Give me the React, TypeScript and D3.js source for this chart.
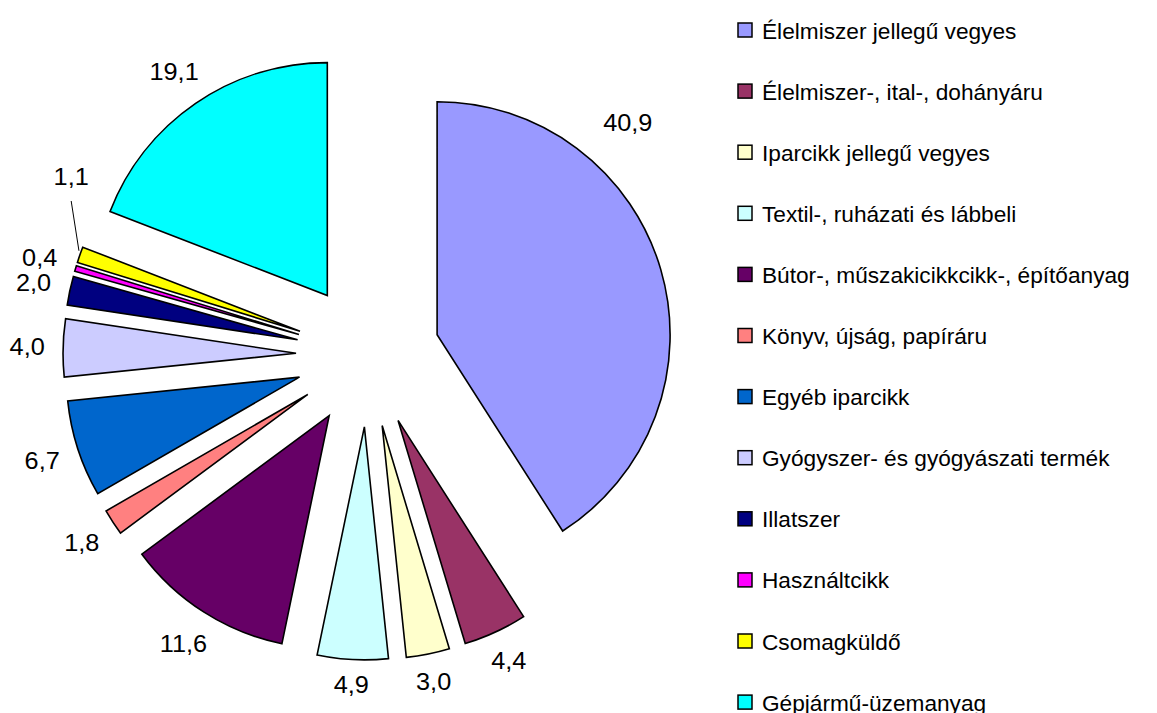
import React from "react";
import * as d3 from "d3";

const categories = [
  "Élelmiszer jellegű vegyes",
  "Élelmiszer-, ital-, dohányáru",
  "Iparcikk jellegű vegyes",
  "Textil-, ruházati és lábbeli",
  "Bútor-, műszakicikkcikk-, építőanyag",
  "Könyv, újság, papíráru",
  "Egyéb iparcikk",
  "Gyógyszer- és gyógyászati termék",
  "Illatszer",
  "Használtcikk",
  "Csomagküldő",
  "Gépjármű-üzemanyag",
];
const values = [40.9, 4.4, 3.0, 4.9, 11.6, 1.8, 6.7, 4.0, 2.0, 0.4, 1.1, 19.1];
const valueLabels = ["40,9", "4,4", "3,0", "4,9", "11,6", "1,8", "6,7", "4,0", "2,0", "0,4", "1,1", "19,1"];
const colors = [
  "#9999FF", "#993366", "#FFFFCC", "#CCFFFF", "#660066", "#FF8080",
  "#0066CC", "#CCCCFF", "#000080", "#FF00FF", "#FFFF00", "#00FFFF",
];

// layout
const W = 1157, H = 713;
const CX = 368, CY = 355, R = 233, EXPLODE = 72;
const FONT = "'Liberation Sans', Arial, sans-serif";
const FS = 23;
const SX_LABEL = 1.1;
const SX_LEGEND = 1.03;
// label placement overrides (angle in degrees from 12 o'clock, distance from slice apex)
const labelOverride: Record<number, { angle: number; dist: number; leader?: boolean }> = {
  0: { angle: 42, dist: 285 },
  10: { angle: 304, dist: 276, leader: true },
};
const LEG_X = 738, LEG_Y0 = 30.5, LEG_DY = 61.1, LEG_BOX = 15;

export default function App() {
  const pie = d3.pie<number>().sort(null).startAngle(0).endAngle(2 * Math.PI);
  const arcs = pie(values);
  const arcGen = d3.arc<d3.PieArcDatum<number>>().innerRadius(0).outerRadius(R);

  return (
    <svg width={W} height={H} style={{ position: "absolute", left: 0, top: 0, background: "#fff" }}>
      {arcs.map((a, i) => {
        const mid = (a.startAngle + a.endAngle) / 2;
        const ox = CX + EXPLODE * Math.sin(mid);
        const oy = CY - EXPLODE * Math.cos(mid);
        return (
          <path
            key={"s" + i}
            d={arcGen(a) || ""}
            transform={`translate(${ox},${oy})`}
            fill={colors[i]}
            stroke="#000"
            strokeWidth={1.6}
            strokeLinejoin="miter"
          />
        );
      })}
      {arcs.map((a, i) => {
        const mid = (a.startAngle + a.endAngle) / 2;
        const ox = CX + EXPLODE * Math.sin(mid);
        const oy = CY - EXPLODE * Math.cos(mid);
        const txt = valueLabels[i];
        const halfW = txt.length * 0.5 * FS * 0.52 * SX_LABEL;
        const halfH = FS * 0.38;
        const ov = labelOverride[i];
        let ang = mid;
        let dist = R + 16 + Math.abs(Math.sin(mid)) * halfW + Math.abs(Math.cos(mid)) * halfH;
        if (ov) {
          ang = (ov.angle * Math.PI) / 180;
          dist = ov.dist;
        }
        const lx = ox + dist * Math.sin(ang);
        const ly = oy - dist * Math.cos(ang);
        const ex = ox + R * Math.sin(mid);
        const ey = oy - R * Math.cos(mid);
        return (
          <g key={"l" + i}>
            {ov && ov.leader ? (
              <line x1={lx} y1={ly + 24} x2={ex - 1} y2={ey - 4} stroke="#000" strokeWidth={1} />
            ) : null}
            <text
              transform={`translate(${lx},${ly}) scale(${SX_LABEL},1)`}
              textAnchor="middle"
              dominantBaseline="central"
              fontFamily={FONT}
              fontSize={FS}
              fill="#000"
            >
              {txt}
            </text>
          </g>
        );
      })}
      {categories.map((c, i) => {
        const y = LEG_Y0 + i * LEG_DY;
        return (
          <g key={"g" + i}>
            <rect
              x={LEG_X}
              y={y - LEG_BOX / 2}
              width={LEG_BOX - 1}
              height={LEG_BOX - 1}
              fill={colors[i]}
              stroke="#000"
              strokeWidth={1.5}
            />
            <text
              transform={`translate(${LEG_X + 24},${y + 8}) scale(${SX_LEGEND},1)`}
              fontFamily={FONT}
              fontSize={FS - 1}
              fill="#000"
            >
              {c}
            </text>
          </g>
        );
      })}
    </svg>
  );
}
